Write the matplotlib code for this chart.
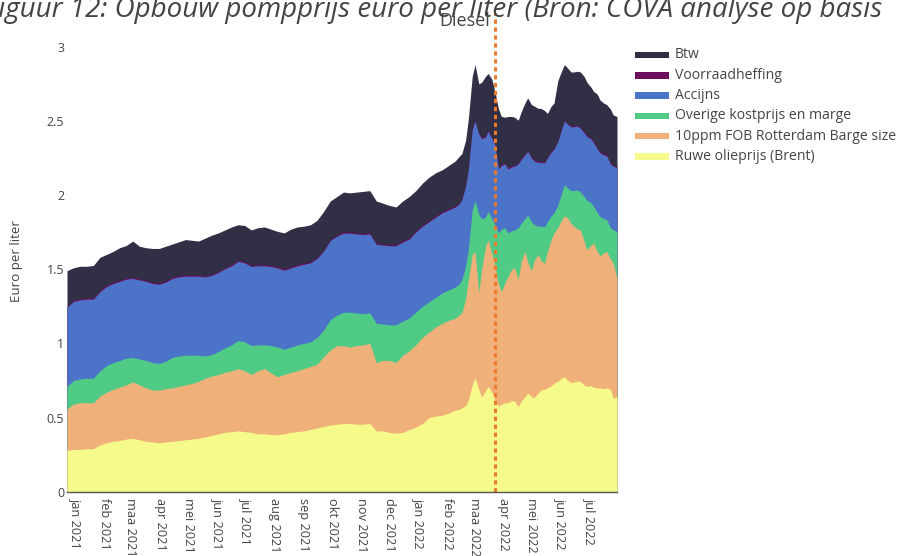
import numpy as np
import pandas as pd
import matplotlib
matplotlib.use("Agg")
import matplotlib.pyplot as plt
from matplotlib.patches import Rectangle
from matplotlib.transforms import ScaledTranslation

# ---------------- data ----------------
weekly_dates = list(pd.date_range("2021-01-01", periods=59, freq="7D"))
late_dates = list(pd.to_datetime([
    "2022-02-18", "2022-02-22", "2022-02-25", "2022-03-01", "2022-03-04", "2022-03-08",
    "2022-03-11", "2022-03-15", "2022-03-18", "2022-03-22", "2022-03-25", "2022-03-29",
    "2022-04-01", "2022-04-05", "2022-04-08", "2022-04-12", "2022-04-15", "2022-04-19",
    "2022-04-22", "2022-04-26", "2022-04-29", "2022-05-03", "2022-05-06", "2022-05-10",
    "2022-05-13", "2022-05-17", "2022-05-20", "2022-05-24", "2022-05-27", "2022-05-31",
    "2022-06-03", "2022-06-07", "2022-06-10", "2022-06-14", "2022-06-17", "2022-06-21",
    "2022-06-24", "2022-06-28", "2022-07-01", "2022-07-05", "2022-07-08", "2022-07-12",
    "2022-07-15", "2022-07-19", "2022-07-22", "2022-07-26", "2022-07-29", "2022-08-02",
    "2022-08-05", "2022-08-09"]))
dates = weekly_dates + late_dates

brent = [0.28, 0.285, 0.285, 0.29, 0.29, 0.315, 0.33, 0.34, 0.345, 0.355, 0.36, 0.35, 0.34, 0.335,
         0.33, 0.335, 0.34, 0.345, 0.35, 0.355, 0.36, 0.37, 0.38, 0.39, 0.40, 0.405, 0.41, 0.405,
         0.40, 0.39, 0.39, 0.385, 0.385, 0.39, 0.40, 0.405, 0.41, 0.42, 0.43, 0.44, 0.45, 0.455,
         0.46, 0.46, 0.455, 0.455, 0.46, 0.41, 0.41, 0.40, 0.395, 0.40, 0.42, 0.435, 0.46, 0.50,
         0.51, 0.515, 0.53,
         0.55, 0.555, 0.565, 0.58, 0.62, 0.72, 0.77, 0.69, 0.64, 0.68, 0.71, 0.67, 0.62, 0.575,
         0.59, 0.60, 0.60, 0.615, 0.61, 0.575, 0.61, 0.64, 0.665, 0.64, 0.635, 0.665, 0.685, 0.69,
         0.70, 0.715, 0.73, 0.745, 0.76, 0.775, 0.755, 0.735, 0.74, 0.745, 0.745, 0.72, 0.71,
         0.715, 0.705, 0.70, 0.70, 0.695, 0.70, 0.69, 0.63, 0.64]

fob = [0.28, 0.305, 0.315, 0.31, 0.31, 0.33, 0.34, 0.35, 0.36, 0.365, 0.38, 0.37, 0.36, 0.35,
       0.355, 0.36, 0.36, 0.365, 0.37, 0.375, 0.385, 0.395, 0.40, 0.40, 0.405, 0.41, 0.42, 0.41,
       0.39, 0.425, 0.44, 0.415, 0.39, 0.40, 0.405, 0.41, 0.42, 0.425, 0.43, 0.47, 0.505, 0.53,
       0.525, 0.515, 0.53, 0.535, 0.54, 0.46, 0.475, 0.485, 0.475, 0.52, 0.53, 0.555, 0.58, 0.575,
       0.60, 0.62, 0.625,
       0.62, 0.635, 0.64, 0.72, 0.81, 0.88, 0.85, 0.65, 0.86, 0.97, 0.99, 0.93, 0.91, 0.825,
       0.76, 0.81, 0.85, 0.885, 0.90, 0.855, 0.94, 0.98, 0.885, 0.85, 0.925, 0.935, 0.875, 0.85,
       0.92, 0.985, 1.015, 1.035, 1.06, 1.085, 1.095, 1.075, 1.05, 1.025, 1.02, 0.97, 0.92,
       0.945, 0.97, 0.92, 0.89, 0.915, 0.92, 0.88, 0.91, 0.80]

overige = [0.15, 0.16, 0.16, 0.165, 0.165, 0.17, 0.18, 0.18, 0.18, 0.18, 0.165, 0.175, 0.185, 0.185,
           0.18, 0.185, 0.205, 0.205, 0.20, 0.19, 0.175, 0.15, 0.145, 0.155, 0.165, 0.175, 0.19,
           0.195, 0.195, 0.175, 0.16, 0.185, 0.20, 0.17, 0.17, 0.175, 0.17, 0.165, 0.18, 0.18,
           0.205, 0.205, 0.225, 0.235, 0.22, 0.21, 0.205, 0.265, 0.245, 0.24, 0.255, 0.23, 0.22,
           0.22, 0.21, 0.205, 0.20, 0.205, 0.205,
           0.21, 0.21, 0.225, 0.22, 0.21, 0.30, 0.34, 0.53, 0.34, 0.20, 0.19, 0.24, 0.27, 0.345,
           0.42, 0.37, 0.295, 0.26, 0.255, 0.35, 0.26, 0.22, 0.315, 0.33, 0.24, 0.19, 0.23, 0.247,
           0.20, 0.16, 0.135, 0.15, 0.17, 0.21, 0.20, 0.22, 0.24, 0.265, 0.255, 0.30, 0.335, 0.29,
           0.25, 0.26, 0.265, 0.23, 0.215, 0.21, 0.225, 0.315]

accijns = [0.533, 0.533, 0.533, 0.533, 0.533, 0.533, 0.533, 0.533, 0.533, 0.533, 0.533, 0.533,
           0.533, 0.533, 0.533, 0.533, 0.533, 0.533, 0.533, 0.533, 0.533, 0.533, 0.533, 0.533,
           0.533, 0.533, 0.533, 0.533, 0.533, 0.533, 0.533, 0.533, 0.533, 0.533, 0.533, 0.533,
           0.533, 0.533, 0.533, 0.533, 0.533, 0.533, 0.533, 0.533, 0.533, 0.533, 0.533, 0.533,
           0.533, 0.533, 0.533, 0.533, 0.533,
           0.54, 0.54, 0.54, 0.54, 0.54, 0.54, 0.54, 0.54, 0.54, 0.54, 0.54, 0.54, 0.54, 0.54,
           0.54, 0.54, 0.54, 0.54, 0.54,
           0.43, 0.43, 0.43, 0.43, 0.43, 0.43, 0.43, 0.43, 0.43, 0.43, 0.43, 0.43, 0.43, 0.43,
           0.43, 0.43, 0.43, 0.43, 0.43, 0.43, 0.43, 0.43, 0.43, 0.43, 0.43, 0.43, 0.43, 0.43,
           0.43, 0.43, 0.43, 0.43, 0.43, 0.43, 0.43, 0.43, 0.43]

voorraadheffing = [
    0.008, 0.008, 0.008, 0.008, 0.008, 0.008, 0.008, 0.008, 0.008, 0.008, 0.008, 0.008, 0.008,
    0.008, 0.008, 0.008, 0.008, 0.008, 0.008, 0.008, 0.008, 0.008, 0.008, 0.008, 0.008, 0.008,
    0.008, 0.008, 0.008, 0.008, 0.008, 0.008, 0.008, 0.008, 0.008, 0.008, 0.008, 0.008, 0.008,
    0.008, 0.008, 0.008, 0.008, 0.008, 0.008, 0.008, 0.008, 0.008, 0.008, 0.008, 0.008, 0.008,
    0.008, 0.008, 0.008, 0.008, 0.008, 0.008, 0.008, 0.008, 0.008, 0.008, 0.008, 0.008, 0.008,
    0.008, 0.008, 0.008, 0.008, 0.008, 0.008, 0.008, 0.008, 0.008, 0.008, 0.008, 0.008, 0.008,
    0.008, 0.008, 0.008, 0.008, 0.008, 0.008, 0.008, 0.008, 0.008, 0.008, 0.008, 0.008, 0.008,
    0.008, 0.008, 0.008, 0.008, 0.008, 0.008, 0.008, 0.008, 0.008, 0.008, 0.008, 0.008, 0.008,
    0.008, 0.008, 0.008, 0.008, 0.008]

btw = [0.239, 0.219, 0.219, 0.214, 0.219, 0.224, 0.209, 0.209, 0.219, 0.219, 0.244, 0.219, 0.219,
       0.229, 0.234, 0.234, 0.224, 0.229, 0.239, 0.234, 0.229, 0.254, 0.264, 0.259, 0.254, 0.254,
       0.239, 0.244, 0.239, 0.249, 0.254, 0.244, 0.239, 0.244, 0.254, 0.254, 0.249, 0.249, 0.249,
       0.259, 0.259, 0.259, 0.269, 0.264, 0.274, 0.284, 0.284, 0.284, 0.274, 0.264, 0.254, 0.269,
       0.279, 0.272, 0.282, 0.292, 0.292, 0.282, 0.292,
       0.302, 0.312, 0.302, 0.302, 0.332, 0.352, 0.372, 0.332, 0.372, 0.402, 0.382, 0.392, 0.352,
       0.397, 0.322, 0.307, 0.347, 0.332, 0.322, 0.287, 0.312, 0.342, 0.352, 0.352, 0.362, 0.357,
       0.357, 0.345, 0.292, 0.302, 0.302, 0.402, 0.392, 0.372, 0.372, 0.362, 0.362, 0.362, 0.372,
       0.372, 0.357, 0.342, 0.337, 0.362, 0.347, 0.342, 0.337, 0.362, 0.337, 0.337]

series_names = ["Ruwe olieprijs (Brent)", "10ppm FOB Rotterdam Barge size",
                "Overige kostprijs en marge", "Accijns", "Voorraadheffing", "Btw"]
series_colors = ["#f5fa8b", "#f0b07a", "#50cb86", "#4b74c9", "#6b0e5e", "#302f45"]

month_names = ["jan", "feb", "maa", "apr", "mei", "jun", "jul", "aug", "sep", "okt", "nov", "dec"]
tick_dates = pd.date_range("2021-01-01", "2022-07-01", freq="MS")
y_ticks = [0, 0.5, 1, 1.5, 2, 2.5, 3]
y_tick_labels = ["0", "0.5", "1", "1.5", "2", "2.5", "3"]
event_date = pd.Timestamp("2022-04-01")

title_text = "Figuur 12: Opbouw pompprijs euro per liter (Bron: COVA analyse op basis"
subtitle_text = "Diesel"
y_title = "Euro per liter"

# ---------------- figure ----------------
W, H = 898, 556
plt.rcParams["font.family"] = ["Open Sans", "DejaVu Sans"]
fig = plt.figure(figsize=(W / 100, H / 100), dpi=100)

def fx(x):
    return x / W

def fy(y):
    return 1 - y / H

ax_left, ax_right, ax_top, ax_bottom = 67, 617, 30, 491.7
ax = fig.add_axes([fx(ax_left), fy(ax_bottom), (ax_right - ax_left) / W, (ax_bottom - ax_top) / H])

layers = [brent, fob, overige, accijns, voorraadheffing, btw]
cum = np.cumsum(np.array(layers, dtype=float), axis=0)
# paint from top layer downwards so that no seams appear between layers
for k in range(len(layers) - 1, -1, -1):
    ax.fill_between(dates, 0, cum[k], color=series_colors[k], linewidth=0,
                    zorder=2 + (len(layers) - k) * 0.01)

ax.set_xlim(dates[0], dates[-1])
ax.set_ylim(0, 3.113)

# dotted vertical marker
ax.axvline(event_date, ymin=0, ymax=(ax_bottom - 13) / (ax_bottom - ax_top), color="#f07a2c",
           lw=2.2, linestyle=(0, (1.4, 1.2)), clip_on=False, zorder=5, dash_capstyle="butt")

# axes styling
for s in ["top", "right", "left"]:
    ax.spines[s].set_visible(False)
ax.spines["bottom"].set_color("#555555")
ax.spines["bottom"].set_linewidth(1.0)
ax.spines["bottom"].set_zorder(6)

ax.set_yticks(y_ticks)
ax.set_yticklabels(y_tick_labels)
ax.tick_params(axis="y", length=0, pad=2, labelsize=9, labelcolor="#444444")

ax.set_xticks(tick_dates)
ax.set_xticklabels([f"{month_names[d.month - 1]} {d.year}" for d in tick_dates])
ax.tick_params(axis="x", length=0, pad=4.5, labelsize=9.2, labelcolor="#444444")
offset = ScaledTranslation(8.5 / 100, 0, fig.dpi_scale_trans)
for lab in ax.get_xticklabels():
    lab.set_rotation(-90)
    lab.set_ha("center")
    lab.set_va("top")
    lab.set_transform(lab.get_transform() + offset)

# texts
fig.text(fx(-15), fy(17), title_text, fontsize=20, style="italic", color="#444444",
         ha="left", va="baseline")
fig.text(fx(464.5), fy(26), subtitle_text, fontsize=13, color="#444444", ha="center", va="baseline")
fig.text(fx(16.7), fy(261), y_title, fontsize=9.6, color="#444444", rotation=90,
         ha="center", va="center")

# legend (top entry = top layer)
leg_y0, leg_dy = 55, 20.3
for j, k in enumerate(range(len(layers) - 1, -1, -1)):
    yc = leg_y0 + j * leg_dy
    fig.add_artist(Rectangle((fx(635), fy(yc + 3.2)), 34 / W, 6.4 / H, transform=fig.transFigure,
                             facecolor=series_colors[k], edgecolor="none"))
    fig.text(fx(675), fy(yc), series_names[k], fontsize=10.1, color="#444444", ha="left", va="center")

fig.savefig("out.png", dpi=100)
